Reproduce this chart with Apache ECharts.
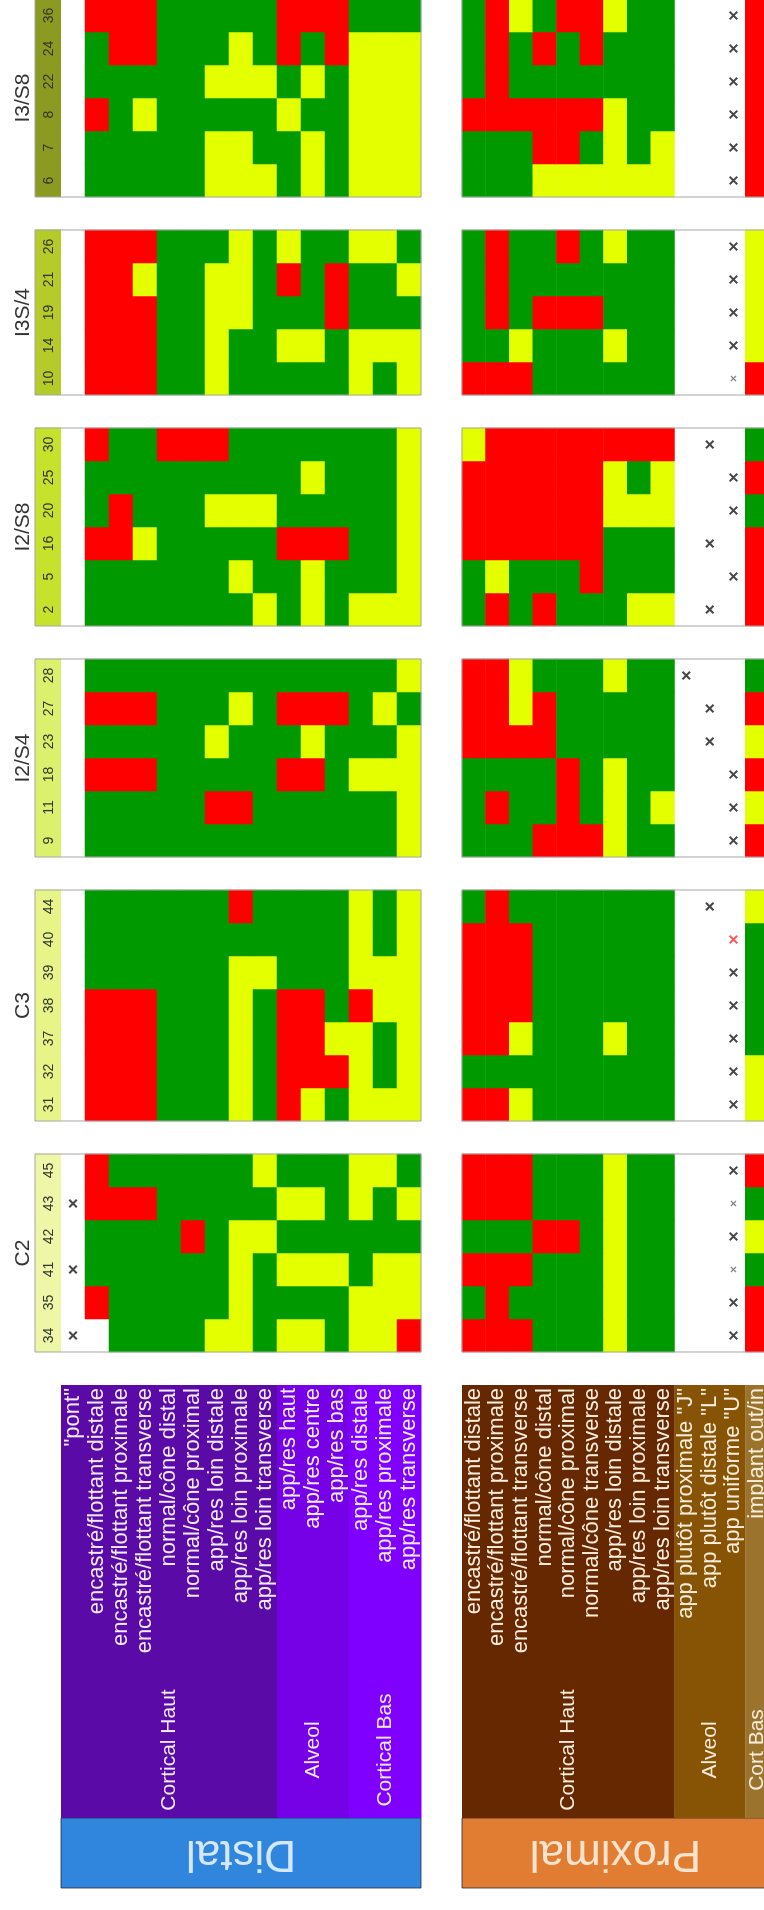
<!DOCTYPE html>
<html>
<head>
<meta charset="utf-8">
<script src="https://cdn.jsdelivr.net/npm/echarts@6/dist/echarts.min.js"></script>
<style>
html,body{margin:0;padding:0;background:#fff;width:764px;height:1910px;overflow:hidden}
#wrap{position:absolute;left:0;top:0;width:1910px;height:764px;transform-origin:0 0;transform:translateY(1910px) rotate(-90deg)}
#chart{width:1910px;height:764px}
</style>
</head>
<body>
<div id="wrap"><div id="chart"></div></div>
<script>
// ---------------- data ----------------
const groupNames = ['C2', 'C3', 'I2/S4', 'I2/S8', 'I3S/4', 'I3/S8'];
const groupColors = ['#eef6a8', '#e6f488', '#dbf06c', '#c6e22c', '#b4cb2a', '#8b9b22'];

const teethC2 = [34, 35, 41, 42, 43, 45];
const teethC3 = [31, 32, 37, 38, 39, 40, 44];
const teethI2S4 = [9, 11, 18, 23, 27, 28];
const teethI2S8 = [2, 5, 16, 20, 25, 30];
const teethI3S4 = [10, 14, 19, 21, 26];
const teethI3S8 = [6, 7, 8, 22, 24, 36];

const distalFeatures = ['"pont"', 'encastré/flottant distale', 'encastré/flottant proximale',
  'encastré/flottant transverse', 'normal/cône distal', 'normal/cône proximal',
  'app/res loin distale', 'app/res loin proximale', 'app/res loin transverse',
  'app/res haut', 'app/res centre', 'app/res bas',
  'app/res distale', 'app/res proximale', 'app/res transverse'];
const proximalFeatures = ['encastré/flottant distale', 'encastré/flottant proximale',
  'encastré/flottant transverse', 'normal/cône distal', 'normal/cône proximal',
  'normal/cône transverse', 'app/res loin distale', 'app/res loin proximale',
  'app/res loin transverse', 'app plutôt proximale "J"', 'app plutôt distale "L"',
  'app uniforme "U"', 'implant out/in'];
const distalSections = [['Cortical Haut', 0, 8], ['Alveol', 9, 11], ['Cortical Bas', 12, 14]];
const proximalSections = [['Cortical Haut', 0, 8], ['Alveol', 9, 11], ['Cort Bas', 12, 12]];

// distal: one string per tooth, one letter per feature
// x = "pont" marked, W = blank, G/Y/R = green/yellow/red
const distalC2 = ['xWGGGGYYGYYGYYR', 'WRGGGGGYGGGGYYY', 'xGGGGGGYGYYYGYY', 'WGGGGRGYYGGGGGG', 'xRRRGGGGGYYGYGY', 'WRGGGGGGYGGGYYG'];
const distalC3 = ['WRRRGGGYGRYGYYY', 'WRRRGGGYGRRRYGY', 'WRRRGGGYGRRYYGY', 'WRRRGGGYGRRGRYY', 'WGGGGGGYYGGGYYY', 'WGGGGGGGGGGGYGY', 'WGGGGGGRGGGGYGY'];
const distalI2S4 = ['WGGGGGGGGGGGGGY', 'WGGGGGRRGGGGGGY', 'WRRRGGGGGRRGYYY', 'WGGGGGYGGGYGGGY', 'WRRRGGGYGRRRGYG', 'WGGGGGGGGGGGGGY'];
const distalI2S8 = ['WGGGGGGGYGYGYYY', 'WGGGGGGYGGYGGGY', 'WRRYGGGGGRRRGGY', 'WGRGGGYYYGGGGGY', 'WGGGGGGGGGYGGGY', 'WRGGRRRGGGGGGGY'];
const distalI3S4 = ['WRRRGGYGGGGGYGY', 'WRRRGGYGGYYGYYY', 'WRRRGGYYGGGRGGG', 'WRRYGGYYGRGRGGY', 'WRRRGGGYGYGGYYG'];
const distalI3S8 = ['WGGGGGYYYGYGYYY', 'WGGGGGYYGGYGYYY', 'WRGYGGGGGYGGYYY', 'WGGGGGYYYGYGYYY', 'WGRRGGGYGRGRYYY', 'WRRRGGGGGRRRGGG'];

// proximal: 9 cortical cells, alveol mark (J/L/U), implant colour, optional mark style (s = small, r = red)
const proximalC2 = ['RRRGGGYGGUR', 'GRGGGGYGGUR', 'RRRGGGYGGUGs', 'GGGRRGYGGUY', 'RRRGGGYGGUGs', 'RRRGGGYGGUR'];
const proximalC3 = ['RRYGGGGGGUY', 'GGGGGGGGGUY', 'RRYGGGYGGUG', 'RRRGGGGGGUG', 'RRRGGGGGGUG', 'RRRGGGGGGUGr', 'GRGGGGGGGLY'];
const proximalI2S4 = ['GGGRRRYGGUR', 'GRGGRGYGYUY', 'GGGGRGYGGUR', 'RRRRGGGGGLY', 'RRYRGGGGGLR', 'RRYGGGYGGJG'];
const proximalI2S8 = ['GRGRGGGYYLR', 'GYGGGRGGGUR', 'RRRRRRGGGLR', 'RRRRRRYYYUG', 'RRRRRRYGYUR', 'YRRRRRRRRLG'];
const proximalI3S4 = ['RRRGGGGGGURs', 'GGYGGGYGGUY', 'GRGRRRGGGUY', 'GRGGGGGGGUY', 'GRGGRGYGGUY'];
const proximalI3S8 = ['GGGYYYYYYUR', 'GGGRRGYGYUR', 'RRRRRRYGGUR', 'GRGGGGGGGUR', 'GRGRGRGGGUR', 'GRYGRRYGGUR'];

// ---------------- layout ----------------
const FONT = '"Liberation Sans", Arial, Helvetica, sans-serif';
const L0 = 558, CW = 33, STRIP_TOP = 35, STRIP_H = 26;
const D_TOP = 61, D_ROW = 24, P_TOP = 462, P_ROW = 23.6;
const LEG_L = 22, LEG_W = 503, BAND_W = 70, CAT_X = 138;

const teethByGroup = [teethC2, teethC3, teethI2S4, teethI2S8, teethI3S4, teethI3S8];
const distalByGroup = [distalC2, distalC3, distalI2S4, distalI2S8, distalI3S4, distalI3S8];
const proximalByGroup = [proximalC2, proximalC3, proximalI2S4, proximalI2S8, proximalI3S4, proximalI3S8];

const colCats = [], groupStart = [], stripData = [], groupData = [];
teethByGroup.forEach((teeth, g) => {
  if (g > 0) colCats.push('gap' + g);
  groupStart.push(colCats.length);
  teeth.forEach((t) => { stripData.push([colCats.length, 0, t, g]); colCats.push(String(t)); });
  groupData.push([groupStart[g], 0, groupStart[g] + teeth.length - 1, g]);
});
const N = colCats.length;

const colorCode = { G: 0, Y: 1, R: 2 };
const distalCells = [], distalMarks = [], proxCells = [], proxMarks = [];
distalByGroup.forEach((rows, g) => rows.forEach((s, i) => {
  const c = groupStart[g] + i;
  for (let r = 0; r < s.length; r++) {
    const ch = s[r];
    if (ch in colorCode) distalCells.push([c, r, colorCode[ch]]);
    else if (ch === 'x') distalMarks.push({ value: [c, r] });
  }
}));
const alveolRow = { J: 9, L: 10, U: 11 };
proximalByGroup.forEach((rows, g) => rows.forEach((s, i) => {
  const c = groupStart[g] + i;
  for (let r = 0; r < 9; r++) proxCells.push([c, r, colorCode[s[r]]]);
  const m = { value: [c, alveolRow[s[9]]] };
  if (s[11] === 's') { m.symbolSize = 6; m.itemStyle = { color: '#666' }; }
  if (s[11] === 'r') { m.itemStyle = { color: '#ff3030' }; }
  proxMarks.push(m);
  proxCells.push([c, 12, colorCode[s[10]]]);
}));

const XPATH = 'path://M0,1.6L1.6,0L5,3.4L8.4,0L10,1.6L6.6,5L10,8.4L8.4,10L5,6.6L1.6,10L0,8.4L3.4,5Z';

function legendRender(sections, colors, bandColor, bandText, bandTextColor, textColor) {
  return function (params, api) {
    const from = api.value(1), to = api.value(2), k = api.value(3);
    const h = api.size([0, 1])[1];
    const y0 = api.coord([0, from])[1] - h / 2;
    const y1 = api.coord([0, to])[1] + h / 2;
    if (k < 0) {
      const xa = api.coord([0, from])[0], xb = api.coord([BAND_W, from])[0];
      return { type: 'group', children: [
        { type: 'rect', shape: { x: xa, y: y0, width: xb - xa, height: y1 - y0 }, style: { fill: bandColor, stroke: '#2a2a40', lineWidth: 0.8 } },
        { type: 'text', x: (xa + xb) / 2, y: (y0 + y1) / 2, rotation: Math.PI / 2,
          style: { text: bandText, fill: bandTextColor, font: '44px ' + FONT, align: 'center', verticalAlign: 'middle' } }
      ] };
    }
    const xa = api.coord([BAND_W, from])[0], xb = api.coord([LEG_W, from])[0];
    return { type: 'group', children: [
      { type: 'rect', shape: { x: xa, y: y0, width: xb - xa, height: y1 - y0 + 0.4 }, style: { fill: colors[k] } },
      { type: 'text', x: api.coord([CAT_X, from])[0], y: (y0 + y1) / 2,
        style: { text: sections[k][0], fill: textColor, font: '21px ' + FONT, align: 'center', verticalAlign: 'middle' } }
    ] };
  };
}

function legendData(sections) {
  const d = [[0, 0, sections[sections.length - 1][2], -1]];
  sections.forEach((s, k) => d.push([0, s[1], s[2], k]));
  return d;
}

function outlineRender(lastRow, extraTop) {
  return function (params, api) {
    const a = api.coord([api.value(0), 0]);
    const b = api.coord([api.value(2), lastRow]);
    const sz = api.size([1, 1]);
    const x0 = a[0] - sz[0] / 2, x1 = b[0] + sz[0] / 2;
    const y0 = a[1] - sz[1] / 2 - extraTop, y1 = b[1] + sz[1] / 2;
    return { type: 'rect', shape: { x: x0, y: y0, width: x1 - x0, height: y1 - y0 },
      style: { fill: 'none', stroke: '#a6a6a6', lineWidth: 1 } };
  };
}

const W = CW * N;
const hiddenCat = (grid, data, inverse) => ({ type: 'category', gridIndex: grid, data: data, inverse: !!inverse, show: false, boundaryGap: true });

const option = {
  backgroundColor: '#ffffff',
  animation: false,
  grid: [
    { left: L0, top: STRIP_TOP, width: W, height: STRIP_H, containLabel: false, outerBoundsMode: 'none' },
    { left: L0, top: D_TOP, width: W, height: 15 * D_ROW, containLabel: false, outerBoundsMode: 'none' },
    { left: L0, top: P_TOP, width: W, height: 13 * P_ROW, containLabel: false, outerBoundsMode: 'none' },
    { left: LEG_L, top: D_TOP, width: LEG_W, height: 15 * D_ROW, containLabel: false, outerBoundsMode: 'none' },
    { left: LEG_L, top: P_TOP, width: LEG_W, height: 13 * P_ROW, containLabel: false, outerBoundsMode: 'none' }
  ],
  xAxis: [
    hiddenCat(0, colCats), hiddenCat(1, colCats), hiddenCat(2, colCats),
    { type: 'value', gridIndex: 3, min: 0, max: LEG_W, show: false },
    { type: 'value', gridIndex: 4, min: 0, max: LEG_W, show: false }
  ],
  yAxis: [
    hiddenCat(0, ['strip']),
    hiddenCat(1, distalFeatures, true),
    hiddenCat(2, proximalFeatures, true),
    { type: 'category', gridIndex: 3, data: distalFeatures, inverse: true, position: 'right', z: 10,
      axisLine: { show: false }, axisTick: { show: false }, splitLine: { show: false },
      axisLabel: { inside: true, interval: 0, margin: 3, color: '#f3eaff', fontSize: 22, fontFamily: FONT } },
    { type: 'category', gridIndex: 4, data: proximalFeatures, inverse: true, position: 'right', z: 10,
      axisLine: { show: false }, axisTick: { show: false }, splitLine: { show: false },
      axisLabel: { inside: true, interval: 0, margin: 3, color: '#fbeedd', fontSize: 22, fontFamily: FONT } }
  ],
  visualMap: [{
    type: 'piecewise', show: false, dimension: 2, seriesIndex: [2, 3],
    pieces: [{ value: 0, color: '#009a00' }, { value: 1, color: '#e4ff00' }, { value: 2, color: '#ff0000' }]
  }],
  series: [
    { type: 'custom', xAxisIndex: 0, yAxisIndex: 0, data: stripData, silent: true,
      renderItem: function (params, api) {
        const p = api.coord([api.value(0), 0]);
        const sz = api.size([1, 1]);
        return { type: 'group', children: [
          { type: 'rect', shape: { x: p[0] - sz[0] / 2, y: p[1] - sz[1] / 2, width: sz[0] + 0.5, height: sz[1] },
            style: { fill: groupColors[api.value(3)] } },
          { type: 'text', x: p[0], y: p[1] + 1,
            style: { text: String(api.value(2)), fill: '#333', font: '14px ' + FONT, align: 'center', verticalAlign: 'middle' } }
        ] };
      } },
    { type: 'custom', xAxisIndex: 0, yAxisIndex: 0, data: groupData, silent: true,
      renderItem: function (params, api) {
        const a = api.coord([api.value(0), 0]);
        const b = api.coord([api.value(2), 0]);
        const sz = api.size([1, 1]);
        return { type: 'text', x: (a[0] + b[0]) / 2, y: a[1] - sz[1] / 2 - 12,
          style: { text: groupNames[api.value(3)], fill: '#333', font: '21px ' + FONT, align: 'center', verticalAlign: 'middle' } };
      } },
    { type: 'heatmap', xAxisIndex: 1, yAxisIndex: 1, data: distalCells, silent: true, itemStyle: { borderWidth: 0 } },
    { type: 'heatmap', xAxisIndex: 2, yAxisIndex: 2, data: proxCells, silent: true, itemStyle: { borderWidth: 0 } },
    { type: 'scatter', xAxisIndex: 1, yAxisIndex: 1, data: distalMarks, symbol: XPATH, symbolSize: 9, silent: true,
      itemStyle: { color: '#1a1a1a' }, z: 5 },
    { type: 'scatter', xAxisIndex: 2, yAxisIndex: 2, data: proxMarks, symbol: XPATH, symbolSize: 9, silent: true,
      itemStyle: { color: '#1a1a1a' }, z: 5 },
    { type: 'custom', xAxisIndex: 1, yAxisIndex: 1, data: groupData, silent: true, z: 6,
      renderItem: outlineRender(14, STRIP_H) },
    { type: 'custom', xAxisIndex: 2, yAxisIndex: 2, data: groupData, silent: true, z: 6,
      renderItem: outlineRender(12, 0) },
    { type: 'custom', xAxisIndex: 3, yAxisIndex: 3, data: legendData(distalSections), silent: true,
      renderItem: legendRender(distalSections, ['#5a0aa6', '#7600e6', '#8000ff'], '#2f86dc', 'Distal', '#d6e8ff', '#f3eaff') },
    { type: 'custom', xAxisIndex: 4, yAxisIndex: 4, data: legendData(proximalSections), silent: true,
      renderItem: legendRender(proximalSections, ['#662800', '#875405', '#9b732d'], '#e07d32', 'Proximal', '#fde4cf', '#fbeedd') }
  ]
};

const chart = echarts.init(document.getElementById('chart'), null, { renderer: 'canvas' });
chart.setOption(option);
</script>
</body>
</html>
